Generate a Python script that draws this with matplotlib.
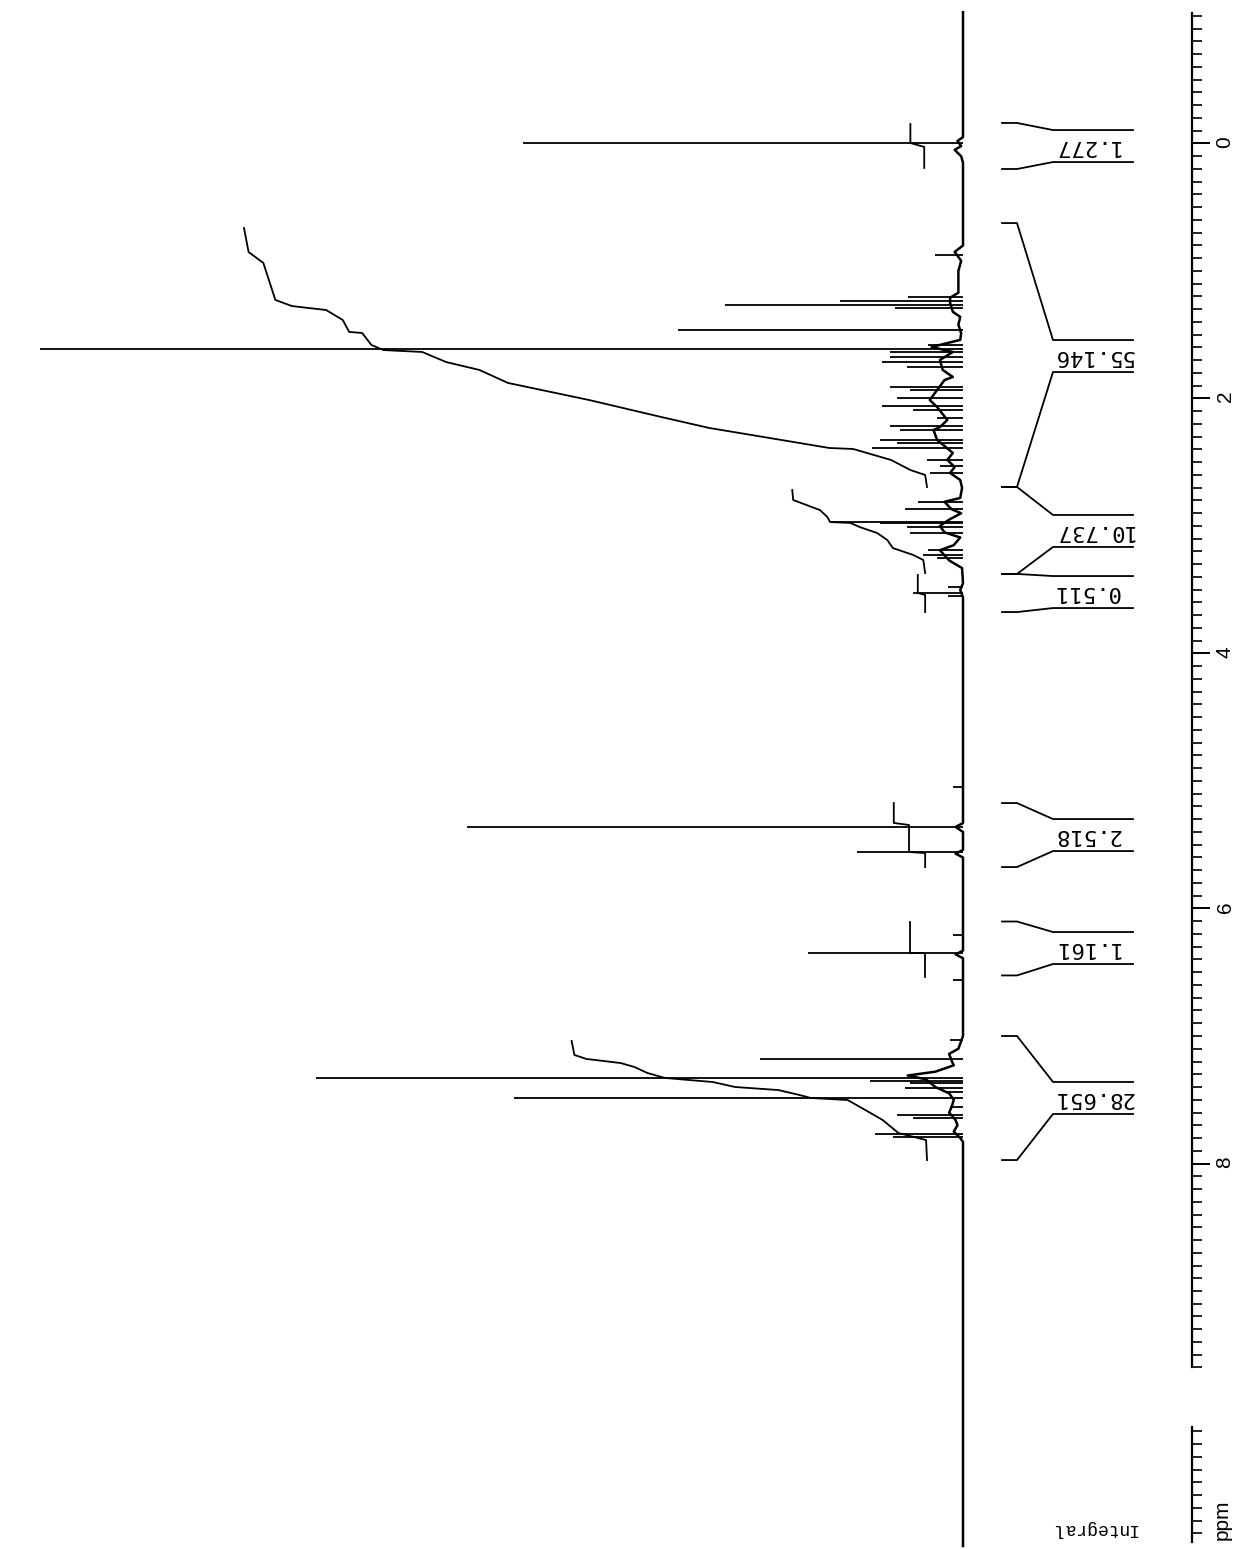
import numpy as np
import matplotlib
matplotlib.use("Agg")
import matplotlib.pyplot as plt
from matplotlib.ticker import FixedLocator

plt.rcParams["font.family"] = ["Liberation Sans", "DejaVu Sans"]

# peak lines: shift (ppm) and height (tallest line = 100)
peak_ppm = [0.00, 0.875, 1.204, 1.235, 1.267, 1.290, 1.463, 1.610,
            1.580, 1.635, 1.675, 1.714, 1.753, 1.910, 1.933, 1.996, 2.059,
            2.090, 2.153, 2.216, 2.247, 2.325, 2.349, 2.388, 2.482, 2.530, 2.584,
            2.812, 2.867, 2.969, 2.976, 3.008, 3.055, 3.188, 3.227, 3.251,
            3.478, 3.525, 3.549,
            5.05, 5.361, 5.557, 6.21, 6.349, 6.56,
            7.031, 7.180, 7.329, 7.353, 7.369, 7.408, 7.439, 7.486, 7.557,
            7.620, 7.643, 7.769, 7.792]
peak_height = [47.7, 3.0, 6.0, 13.3, 25.8, 7.4, 30.9, 100.0,
               3.8, 7.9, 7.9, 8.8, 6.1, 7.9, 5.7, 7.2, 8.8,
               5.4, 2.8, 7.9, 6.8, 9.0, 7.2, 9.9, 3.9, 2.5, 3.6,
               4.9, 6.3, 14.2, 9.0, 6.1, 5.7, 3.8, 4.3, 2.8,
               1.6, 5.4, 1.6,
               1.1, 53.7, 11.5, 1.1, 16.8, 1.1,
               1.4, 22.0, 70.1, 10.1, 5.7, 6.3, 1.7, 48.6, 1.4,
               7.2, 5.4, 9.5, 7.6]

# baseline of the trace with its broad bumps
base_ppm = [-1.03, -0.05, -0.02, 0.02, 0.05, 0.10, 0.15, 0.80, 0.85, 0.88,
            0.92, 1.00, 1.17, 1.21, 1.25, 1.32, 1.36, 1.42, 1.49, 1.54,
            1.596, 1.635, 1.698, 1.776, 1.831, 1.855, 1.933, 2.012, 2.067,
            2.169, 2.224, 2.247, 2.325, 2.427, 2.482, 2.537, 2.584, 2.639,
            2.70, 2.78, 2.81, 2.85, 2.87, 2.90, 2.95, 3.00, 3.05, 3.09, 3.15,
            3.19, 3.23, 3.27, 3.33, 3.45, 3.50, 3.56, 5.33, 5.36, 5.40,
            5.54, 5.57, 5.60, 6.33, 6.36, 6.39, 7.00, 7.10, 7.14, 7.20,
            7.23, 7.28, 7.31, 7.34, 7.40, 7.45, 7.50, 7.55, 7.60, 7.66,
            7.70, 7.75, 7.80, 7.83, 11.0]
base_int = [0, 0, 0.6, 0.2, 0.9, 0.2, 0, 0, 0.9, 0.6,
            0.2, 0.5, 0.5, 1.4, 1.4, 1.1, 0.3, 0.5, 0.2, 0.3,
            3.4, 1.1, 2.5, 2.2, 1.1, 2.0, 2.8, 3.6, 2.8,
            1.7, 2.5, 3.2, 2.8, 1.1, 1.7, 0.9, 1.4, 0.3,
            0.1, 0.3, 2.0, 1.5, 1.2, 0.2, 1.5, 2.5, 2.0, 0.3, 1.0,
            2.5, 2.0, 1.5, 0.1, 0, 0.3, 0, 0, 0.8, 0,
            0, 0.8, 0, 0, 0.8, 0, 0, 0.5, 1.5, 1.2,
            1.0, 3.0, 6.0, 4.0, 3.0, 1.5, 1.0, 1.2, 1.5, 0.8,
            0.6, 1.0, 0.3, 0, 0]

# integral traces (ppm, trace value)
int_tms_ppm = [0.192, 0.027, -0.004, -0.153]
int_tms_val = [4.2, 4.2, 5.7, 5.7]

int_ali_ppm = [2.694, 2.600, 2.561, 2.482, 2.396, 2.388, 2.325, 2.231, 2.145,
               2.012, 1.910, 1.878, 1.776, 1.714, 1.635, 1.620, 1.580, 1.486,
               1.478, 1.384, 1.306, 1.275, 1.227, 0.937, 0.851, 0.663]
int_ali_val = [3.9, 4.1, 5.7, 7.8, 11.9, 14.5, 19.7, 27.5, 32.7,
               40.5, 47.2, 49.3, 52.4, 56.0, 58.6, 62.8, 64.1, 65.1,
               66.5, 67.2, 69.0, 72.7, 74.5, 75.8, 77.4, 77.9]

int_mid_ppm = [3.369, 3.267, 3.227, 3.173, 3.110, 3.055, 3.008, 2.976,
               2.969, 2.929, 2.875, 2.796, 2.718]
int_mid_val = [4.1, 4.3, 5.4, 7.6, 8.2, 9.3, 11.2, 12.2,
               14.4, 14.7, 15.5, 18.4, 18.5]

int_oxy_ppm = [3.675, 3.541, 3.525, 3.384]
int_oxy_val = [4.1, 4.1, 4.9, 4.9]

int_ol1_ppm = [5.675, 5.565, 5.557, 5.345, 5.329, 5.173]
int_ol1_val = [4.1, 4.1, 5.85, 5.85, 7.5, 7.5]

int_ol2_ppm = [6.537, 6.349, 6.349, 6.106]
int_ol2_val = [4.1, 4.1, 5.7, 5.7]

int_aro_ppm = [7.973, 7.816, 7.761, 7.659, 7.580, 7.502, 7.486, 7.463, 7.424,
               7.400, 7.361, 7.329, 7.290, 7.243, 7.212, 7.180, 7.149, 7.039]
int_aro_val = [3.9, 4.0, 7.0, 8.7, 10.6, 12.5, 16.5, 17.7, 20.0,
               24.7, 27.1, 32.3, 34.2, 35.6, 37.1, 40.8, 42.1, 42.4]

# integral regions and printed values
region_lo = [-0.161, 0.624, 2.694, 3.376, 5.173, 6.102, 7.000]
region_hi = [0.200, 2.694, 3.376, 3.675, 5.675, 6.525, 7.973]
region_mid = [0.020, 1.667, 3.039, 3.518, 5.424, 6.310, 7.486]
region_val = ["1.277", "55.146", "10.737", "0.511", "2.518", "1.161", "28.651"]

ppm_labels = [0, 2, 4, 6, 8]

W, H = 1255, 1549
PX0, PXPPM = 143.5, 127.5   # pixel row of 0 ppm, pixels per ppm


def row_to_ppm(y):
    return (y - PX0) / PXPPM


y_bottom, y_top = row_to_ppm(H), row_to_ppm(0)

fig = plt.figure(figsize=(W / 100, H / 100), dpi=100)

# spectrum, lying on its side: intensity grows to the left
ax = fig.add_axes([0, 0, 980 / W, 1])
ax.set_xlim(963 / 9.23, -17 / 9.23)
ax.set_ylim(y_bottom, y_top)
ax.axis("off")
ax.plot(base_int, base_ppm, color="k", lw=1.8, solid_joinstyle="round")
ax.hlines(peak_ppm, 0, peak_height, color="k", lw=1.3)
for vals, ppms in [(int_tms_val, int_tms_ppm), (int_ali_val, int_ali_ppm),
                   (int_mid_val, int_mid_ppm), (int_oxy_val, int_oxy_ppm),
                   (int_ol1_val, int_ol1_ppm), (int_ol2_val, int_ol2_ppm),
                   (int_aro_val, int_aro_ppm)]:
    ax.plot(vals, ppms, color="k", lw=1.3)

# integral brackets and values
axl = fig.add_axes([1000 / W, 0, 140 / W, 1])
axl.set_xlim(1000, 1140)
axl.set_ylim(y_bottom, y_top)
axl.axis("off")
hh = 16 / PXPPM
for lo, hi, mid, val in zip(region_lo, region_hi, region_mid, region_val):
    axl.plot([1002, 1017, 1053, 1133], [lo, lo, mid - hh, mid - hh], color="k", lw=1.3)
    axl.plot([1002, 1017, 1053, 1133], [hi, hi, mid + hh, mid + hh], color="k", lw=1.3)
    axl.text(1053, mid, val, rotation=180, ha="left", va="center",
             family="DejaVu Sans Mono", fontsize=16)

# ppm scale, broken by the punch hole near 10 ppm
for seg_lo, seg_hi in [(-1.02, 9.6), (10.07, 10.97)]:
    axt = fig.add_axes([1150 / W, 0, 42 / W, 1])
    axt.set_ylim(y_bottom, y_top)
    axt.patch.set_visible(False)
    for side in ["left", "top", "bottom"]:
        axt.spines[side].set_visible(False)
    axt.spines["right"].set_bounds(seg_lo, seg_hi)
    axt.spines["right"].set_linewidth(1.6)
    axt.set_xticks([])
    axt.yaxis.tick_right()
    majors = [v for v in ppm_labels if seg_lo <= v <= seg_hi]
    minors = [round(v, 1) for v in np.arange(-1.0, 11.0, 0.1)
              if seg_lo <= v <= seg_hi and round(v, 1) not in majors]
    axt.yaxis.set_major_locator(FixedLocator(majors))
    axt.yaxis.set_minor_locator(FixedLocator(minors))
    axt.set_yticklabels([str(v) for v in majors])
    axt.tick_params(axis="y", which="major", direction="out", length=13,
                    width=1.4, labelsize=15, labelrotation=90, pad=4)
    axt.tick_params(axis="y", which="minor", direction="out", length=7, width=1.2)

fig.text(1222 / W, 1 - 1520 / H, "ppm", rotation=90, ha="center", va="center",
         fontsize=15)
fig.text(1094 / W, 1 - 1528 / H, "Integral", rotation=180, ha="center",
         va="center", family="Liberation Mono", fontsize=13)

fig.savefig("out.png", dpi=100)
